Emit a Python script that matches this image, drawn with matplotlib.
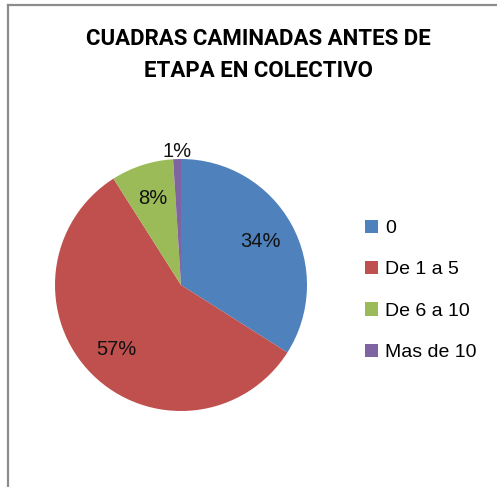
import matplotlib.pyplot as plt
from matplotlib.patches import Patch
from matplotlib.lines import Line2D

categorias = ["0", "De 1 a 5", "De 6 a 10", "Mas de 10"]
porcentajes = [34, 57, 8, 1]
colores = ["#4F81BD", "#C0504D", "#9BBB59", "#8064A2"]
titulo = "CUADRAS CAMINADAS ANTES DE\nETAPA EN COLECTIVO"

W, H = 497, 487
fig = plt.figure(figsize=(W / 100, H / 100), dpi=100)

# chart area border (only top and left visible)
fig.add_artist(Line2D([7.5 / W, 7.5 / W], [0, 1 - 4.5 / H], color="#8c8c8c", lw=1.6))
fig.add_artist(Line2D([7.5 / W, 1], [1 - 4.5 / H, 1 - 4.5 / H], color="#8c8c8c", lw=1.6))

fig.text(258 / W, 1 - 55 / H, titulo, ha="center", va="center", fontsize=16,
         fontweight="bold", family=["Roboto", "DejaVu Sans"],
         linespacing=1.6)

fuente = ["Liberation Sans", "DejaVu Sans"]
cx, cy, r = 181, 285, 126
ax = fig.add_axes([(cx - r) / W, (H - cy - r) / H, 2 * r / W, 2 * r / H])
wedges, textos, autotextos = ax.pie(
    porcentajes, colors=colores, startangle=90, counterclock=False,
    autopct="%d%%", pctdistance=0.72, radius=1,
    textprops={"fontsize": 14.5, "family": fuente, "color": "#111111"})
# small slice label sits outside
x1, y1 = autotextos[3].get_position()
autotextos[3].set_position((x1 / 0.72 * 1.06, y1 / 0.72 * 1.06))
ax.set_xlim(-1, 1)
ax.set_ylim(-1, 1)
ax.set_aspect("equal")

handles = [Patch(facecolor=c, edgecolor="none") for c in colores]
fig.legend(handles, categorias, loc="upper left", bbox_to_anchor=(347 / W, 1 - 202 / H),
           frameon=False, handlelength=0.7, handleheight=0.7, handletextpad=0.35,
           labelspacing=1.22, prop={"family": fuente, "size": 14})

fig.savefig("out.png", dpi=100)
